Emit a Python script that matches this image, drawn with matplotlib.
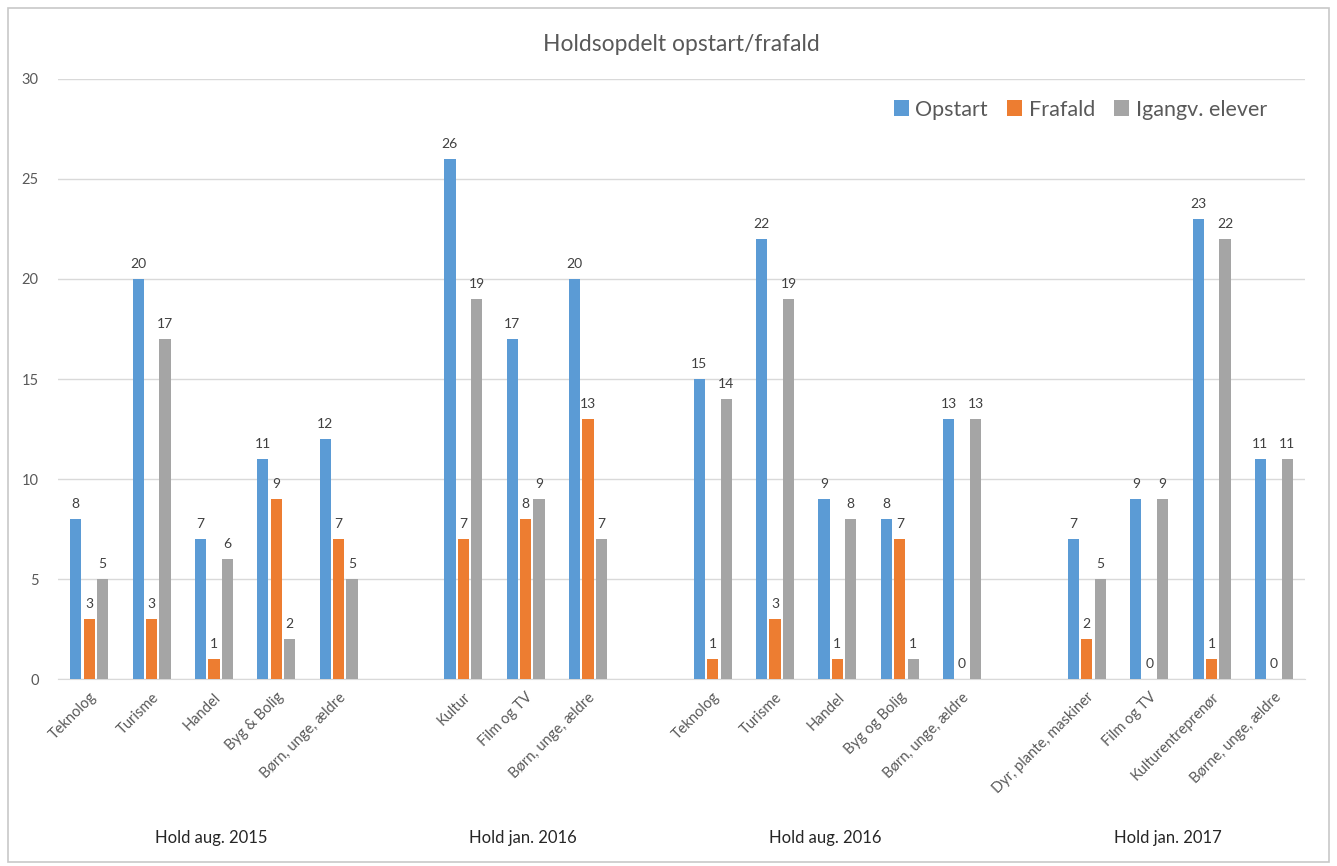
import numpy as np
import matplotlib
matplotlib.use("Agg")
from matplotlib import pyplot as plt
from matplotlib.patches import Rectangle

plt.rcParams['font.family'] = ['Lato', 'DejaVu Sans']

# categories, blank slots separate the four intakes
categories = ['Teknolog', 'Turisme', 'Handel', 'Byg & Bolig', 'Børn, unge, ældre', '',
              'Kultur', 'Film og TV', 'Børn, unge, ældre', '',
              'Teknolog', 'Turisme', 'Handel', 'Byg og Bolig', 'Børn, unge, ældre', '',
              'Dyr, plante, maskiner', 'Film og TV', 'Kulturentreprenør', 'Børne, unge, ældre']
nan = np.nan
opstart = [8, 20, 7, 11, 12, nan, 26, 17, 20, nan, 15, 22, 9, 8, 13, nan, 7, 9, 23, 11]
frafald = [3, 3, 1, 9, 7, nan, 7, 8, 13, nan, 1, 3, 1, 7, 0, nan, 2, 0, 1, 0]
igangv = [5, 17, 6, 2, 5, nan, 19, 9, 7, nan, 14, 19, 8, 1, 13, nan, 5, 9, 22, 11]
series_names = ['Opstart', 'Frafald', 'Igangv. elever']
colors = ['#5b9bd5', '#ed7d31', '#a5a5a5']

groups = ['Hold aug. 2015', 'Hold jan. 2016', 'Hold aug. 2016', 'Hold jan. 2017']
group_pos = [1.95, 6.95, 11.8, 17.3]

fig = plt.figure(figsize=(13.37, 8.66), dpi=100)
ax = fig.add_axes([0.0434, 0.2159, 0.9327, 0.6929])

x = np.arange(len(categories))
w = 0.18
off = 0.215
for i, (vals, name, c) in enumerate(zip([opstart, frafald, igangv], series_names, colors)):
    xs = x + (i - 1) * off
    ax.bar(xs, vals, width=w, color=c, label=name, zorder=3)
    for xi, v in zip(xs, vals):
        if np.isnan(v):
            continue
        ax.text(xi, v + 0.45, '%d' % v, ha='center', va='bottom', fontsize=10, color='#404040')

ax.set_xlim(-0.5, len(categories) - 0.5)
ax.set_ylim(0, 30)
ax.set_yticks(range(0, 31, 5))
ax.yaxis.grid(True, color='#d9d9d9', linewidth=1, zorder=0)
ax.set_axisbelow(True)
for s in ['top', 'right', 'left']:
    ax.spines[s].set_visible(False)
ax.spines['bottom'].set_color('#d9d9d9')
ax.tick_params(axis='both', length=0, colors='#595959', labelsize=10.5)
ax.tick_params(axis='y', pad=14)
ax.set_xticks(x)
ax.set_xticklabels(categories, rotation=45, ha='right', rotation_mode='anchor')
ax.tick_params(axis='x', pad=8)

for g, gp in zip(groups, group_pos):
    ax.text(gp, -0.265, g, transform=ax.get_xaxis_transform(), ha='center', va='center',
            fontsize=12, color='#262626')

ax.set_title('Holdsopdelt opstart/frafald', fontsize=16.5, color='#595959', pad=20)

leg = ax.legend(loc='upper right', bbox_to_anchor=(0.985, 0.998), ncol=3, frameon=False,
                fontsize=15.5, handlelength=0.7, handleheight=0.7, handletextpad=0.3,
                columnspacing=0.9)
for t in leg.get_texts():
    t.set_color('#595959')

# chart frame
fig.patches.append(Rectangle((0.006, 0.005), 0.988, 0.986, transform=fig.transFigure,
                             fill=False, edgecolor='#c8c8c8', linewidth=1.2))

fig.savefig('out.png', dpi=100)
